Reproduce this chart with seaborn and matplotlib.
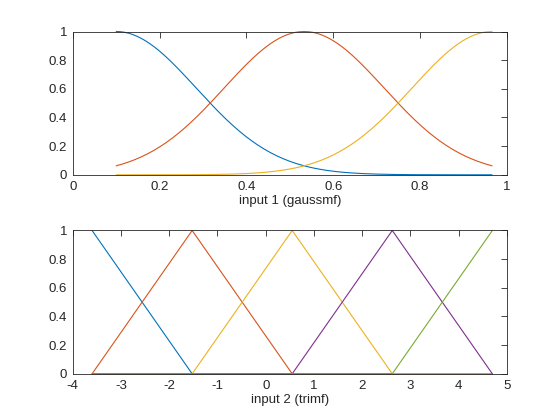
import numpy as np
import pandas as pd
import matplotlib
matplotlib.use('Agg')
import matplotlib.pyplot as plt
import seaborn as sns

# input 1: gaussmf params [sigma, center], range
in1_range = [0.1, 0.966]
in1_sigma = [0.184, 0.184, 0.184]
in1_center = [0.1, 0.533, 0.966]
in1_names = ['mf1', 'mf2', 'mf3']

# input 2: trimf params [a, b, c]
in2_a = [-5.675, -3.6, -1.525, 0.55, 2.625]
in2_b = [-3.6, -1.525, 0.55, 2.625, 4.7]
in2_c = [-1.525, 0.55, 2.625, 4.7, 6.775]
in2_range = [-3.6, 4.7]
in2_names = ['mf1', 'mf2', 'mf3', 'mf4', 'mf5']

matlab_colors = ['#0072BD', '#D95319', '#EDB120', '#7E2F8E', '#77AC30']


def gauss_frame(x):
    rows = []
    for name, s, c in zip(in1_names, in1_sigma, in1_center):
        y = np.exp(-(x - c) ** 2 / (2 * s ** 2))
        rows.append(pd.DataFrame({'x': x, 'y': y, 'mf': name}))
    return pd.concat(rows, ignore_index=True)


def tri_frame(x):
    rows = []
    for name, a, b, c in zip(in2_names, in2_a, in2_b, in2_c):
        y = np.maximum(np.minimum((x - a) / (b - a), (c - x) / (c - b)), 0)
        rows.append(pd.DataFrame({'x': x, 'y': y, 'mf': name}))
    return pd.concat(rows, ignore_index=True)


def style_axes(ax, xlabel, xlim, xticks, xticklabels):
    ax.set_xlim(xlim)
    ax.set_ylim(0, 1)
    ax.set_xticks(xticks)
    ax.set_xticklabels(xticklabels)
    ax.set_yticks([0, 0.2, 0.4, 0.6, 0.8, 1])
    ax.set_yticklabels(['0', '0.2', '0.4', '0.6', '0.8', '1'])
    ax.set_xlabel(xlabel, labelpad=1.5, color='#262626')
    ax.set_ylabel('')
    ax.tick_params(direction='in', length=4, width=0.6, top=True, right=True,
                   colors='#262626', labelsize=9.5)
    ax.tick_params(axis='x', pad=4.5)
    ax.tick_params(axis='y', pad=4)
    for sp in ax.spines.values():
        sp.set_visible(True)
        sp.set_linewidth(0.6)
        sp.set_color('#262626')
    if ax.get_legend() is not None:
        ax.get_legend().remove()


sns.set_style('white')
plt.rcParams['font.family'] = ['Liberation Sans', 'DejaVu Sans']
plt.rcParams['font.size'] = 9.5

fig = plt.figure(figsize=(5.6, 4.2), dpi=100)
ax1 = fig.add_axes([0.13, 0.5838, 0.775, 0.3412])
ax2 = fig.add_axes([0.13, 0.11, 0.775, 0.3412])

df1 = gauss_frame(np.linspace(in1_range[0], in1_range[1], 181))
sns.lineplot(data=df1, x='x', y='y', hue='mf', palette=matlab_colors[:3],
             linewidth=0.8, ax=ax1, legend=False)
style_axes(ax1, 'input 1 (gaussmf)', (0, 1), [0, 0.2, 0.4, 0.6, 0.8, 1],
           ['0', '0.2', '0.4', '0.6', '0.8', '1'])

df2 = tri_frame(np.linspace(in2_range[0], in2_range[1], 181))
sns.lineplot(data=df2, x='x', y='y', hue='mf', palette=matlab_colors,
             linewidth=0.8, ax=ax2, legend=False)
style_axes(ax2, 'input 2 (trimf)', (-4, 5), list(range(-4, 6)),
           [str(v) for v in range(-4, 6)])

for ax in (ax1, ax2):
    for line in ax.get_lines():
        line.set_clip_on(False)

fig.savefig('out.png', dpi=100)
